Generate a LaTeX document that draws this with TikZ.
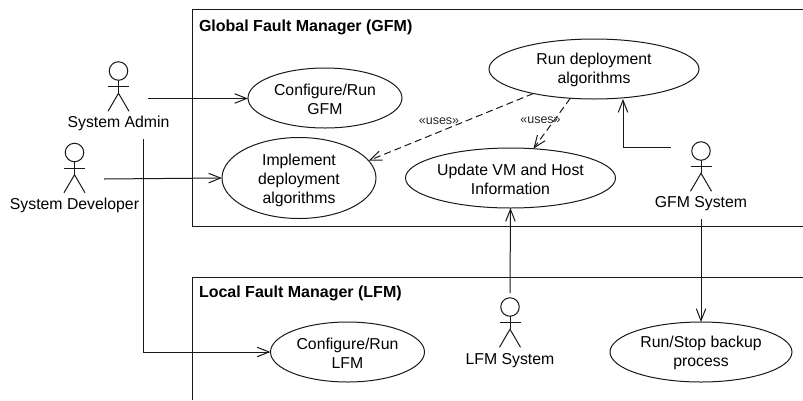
\documentclass[tikz,border=0pt]{standalone}
\usepackage{fontspec}
\setmainfont{Liberation Sans}
\usetikzlibrary{arrows.meta,shapes.geometric}
\newcommand{\lftA}{\rule{0pt}{14pt}}
\newcommand{\lftB}{\rule{0pt}{16pt}}
\tikzset{
  every node/.style={inner sep=0pt,outer sep=0pt},
  base/.style={line width=1pt,draw=black!90},
  usecase/.style={base,ellipse,align=center,font=\fontsize{15.8}{19}\selectfont},
  actorlabel/.style={font=\fontsize{15.8}{19}\selectfont},
  acthead/.style={base,circle,minimum size=18.5pt},
  title/.style={anchor=west,font=\fontsize{16}{19}\selectfont\bfseries},
  flow/.style={base,-{Straight Barb[length=12pt,width=9.5pt]}},
  dep/.style={flow,dash pattern=on 7pt off 4pt},
  usestext/.style={font=\fontsize{12.5}{14}\selectfont,text=black!85}
}
\newcommand{\actorfig}[5]{% name, x, y of head centre, label y, label
  \node[acthead] (#1) at (#2,#3) {};
  \draw[base] (#1.south) -- ++(0,13) coordinate (#1hip);
  \draw[base] ([xshift=-10.5pt,yshift=-6.5pt]#1.south) -- ([xshift=10.5pt,yshift=-6.5pt]#1.south);
  \draw[base] ([xshift=-10.5pt,yshift=-18pt]#1hip) -- (#1hip) -- ([xshift=10.5pt,yshift=-18pt]#1hip);
  \node[actorlabel] (#1label) at (#2,#4) {#5};
}
\begin{document}
\begin{tikzpicture}[x=1pt,y=-1pt]
\useasboundingbox (0,0) rectangle (803,400);
\fill[white] (0,0) rectangle (803,400);
% system boxes
\coordinate (gfmTR) at (803,9.5);
\coordinate (gfmTL) at (192,9.5);
\coordinate (gfmBL) at (192,226.5);
\coordinate (gfmBR) at (803,226.5);
\coordinate (lfmTR) at (803,277.5);
\coordinate (lfmTL) at (192,277.5);
\coordinate (lfmBL) at (192,400);
\draw[base] (gfmTR) -- (gfmTL) -- (gfmBL) -- (gfmBR);
\draw[base] (lfmTR) -- (lfmTL) -- (lfmBL);
\node[title] (gfmtitle) at (199,27.5) {Global Fault Manager (GFM)};
\node[title] (lfmtitle) at (199,293.5) {Local Fault Manager (LFM)};
% use cases
\node[usecase,minimum width=154pt,minimum height=60pt] (cfgG) at (325,98) {\lftA Configure/Run\\GFM};
\node[usecase,minimum width=154pt,minimum height=60pt] (impl) at (299,178) {\lftB Implement\\deployment\\algorithms};
\node[usecase,minimum width=210pt,minimum height=60pt] (run) at (594,69) {\lftA Run deployment\\algorithms};
\node[usecase,minimum width=210pt,minimum height=60pt] (upd) at (510.5,178) {\lftA Update VM and Host\\Information};
\node[usecase,minimum width=154pt,minimum height=60pt] (cfgL) at (347.5,352) {\lftA Configure/Run\\LFM};
\node[usecase,minimum width=182pt,minimum height=60pt] (stop) at (701,352) {\lftA Run/Stop backup\\process};
% actors
\actorfig{admin}{118.5}{71}{123.5}{System Admin}
\actorfig{dev}{74.5}{152.5}{205.5}{System Developer}
\actorfig{gsys}{701}{151}{203.5}{GFM System}
\actorfig{lsys}{510}{307}{360.5}{LFM System}
% free ends
\coordinate (adminOut) at (148,98.5);
\coordinate (adminDown) at (143,139);
\coordinate (adminBend) at (143,352);
\coordinate (devOut) at (104,179);
\coordinate (gsysOut) at (671,147);
\coordinate (gsysBend) at (623,147);
\coordinate (gsysDown) at (701,219);
\coordinate (lsysUp) at (510,293);
% connectors
\draw[flow] (adminOut) -- (cfgG.west |- adminOut);
\draw[flow] (devOut) -- (impl.west);
\draw[flow] (adminDown) -- (adminBend) -- (cfgL.west);
\draw[flow] (gsysOut) -- (gsysBend) -- (gsysBend |- run.south);
\draw[flow] (gsysDown) -- (stop.north);
\draw[flow] (lsysUp) -- (upd.south);
\draw[dep] (run.202) -- (impl.14);
\draw[dep] (run.231) -- (upd.52);
\node[usestext] (uses1) at (439,121) {«uses»};
\node[usestext] (uses2) at (540.5,120) {«uses»};
\end{tikzpicture}
\end{document}
